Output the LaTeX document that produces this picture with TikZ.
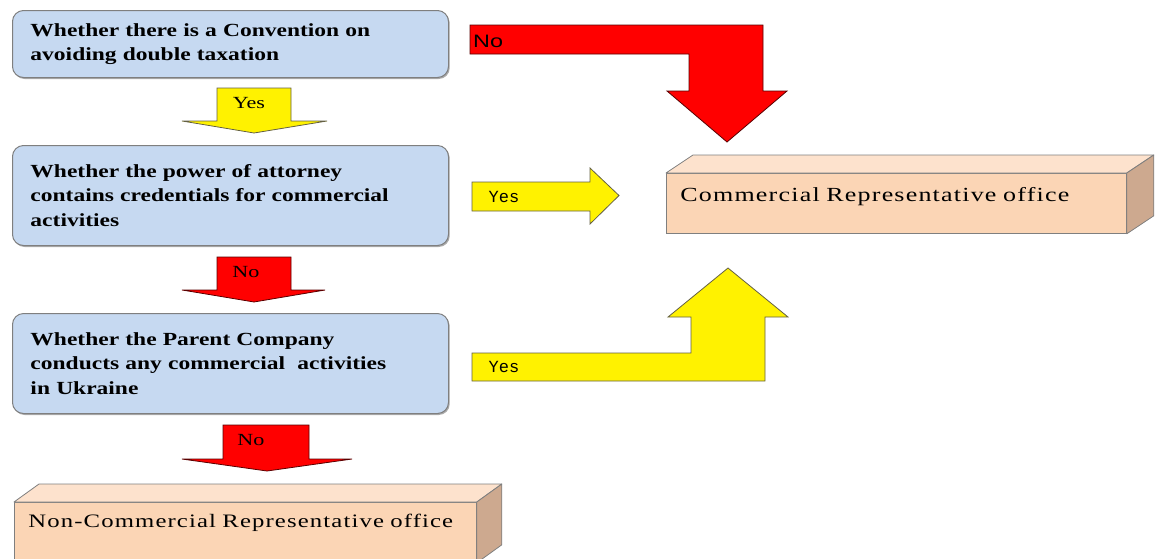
\documentclass[tikz,border=0pt]{standalone}
\usepackage{fontspec}
\setmainfont{Liberation Serif}[FakeStretch=1.3]
\newfontfamily\boxfont{Liberation Serif}[FakeStretch=1.27]
\newfontfamily\officefont{Liberation Serif}[FakeStretch=1.3,LetterSpace=6]
\newfontfamily\nosans{Liberation Sans}[FakeStretch=1.3]
\newfontfamily\yesmono{Liberation Mono}
\usetikzlibrary{shadows}
\definecolor{qblue}{HTML}{C6D9F1}
\definecolor{qedge}{HTML}{7F7F7F}
\definecolor{peach}{HTML}{FBD5B5}
\definecolor{peachtop}{HTML}{FDE2CD}
\definecolor{peachside}{HTML}{CDA98F}

\begin{document}
\begin{tikzpicture}[x=1pt,y=-1pt,
  qbox/.style={draw=qedge, line width=1pt, fill=qblue, rounded corners=11pt, anchor=north west,
    text width=400pt, inner xsep=18pt, align=left,
    font=\boxfont\bfseries\fontsize{18.5}{24.5}\selectfont,
    drop shadow={shadow xshift=1.2pt, shadow yshift=-1.5pt, fill=black!55, opacity=0.6}},
  office/.style={draw=qedge, line width=0.8pt, fill=peach, anchor=north west,
    inner xsep=14pt, inner ysep=0pt, align=left, font=\officefont\fontsize{20}{22}\selectfont},
  facetop/.style={draw=qedge, line width=0.8pt, fill=peachtop, line join=round},
  faceside/.style={draw=qedge, line width=0.8pt, fill=peachside, line join=round},
  yesarrow/.style={draw=yellow!30!black, line width=0.8pt, fill=yellow},
  noarrow/.style={draw=red!35!black, line width=0.8pt, fill=red},
  lab/.style={inner sep=0pt, font=\fontsize{17}{19}\selectfont}]

\useasboundingbox (0,0) rectangle (1156,558);

% questions
\node[qbox, minimum height=67pt] (conv) at (12,10) {Whether there is a Convention on\\avoiding double taxation};
\node[qbox, minimum height=100pt] (poa) at (12,145) {Whether the power of attorney\\contains credentials for commercial\\activities};
\node[qbox, minimum height=100pt] (parent) at (12,313) {Whether the Parent Company\\conducts any commercial\ \ activities\\in Ukraine};

% results
\node[office, text width=432pt, text height=28pt, text depth=32pt] (com) at (666,173) {Commercial Representative office};
\draw[facetop] (com.north west) -- ++(27,-18) -- ([shift={(27,-18)}]com.north east) -- (com.north east) -- cycle;
\draw[faceside] (com.north east) -- ++(27,-18) -- ([shift={(27,-18)}]com.south east) -- (com.south east) -- cycle;

\node[office, text width=434pt, text height=25pt, text depth=35pt, font=\officefont\fontsize{19}{22}\selectfont] (noncom) at (14,502) {\mbox{Non-Commercial Representative office}};
\draw[facetop] (noncom.north west) -- ++(25,-18) -- ([shift={(25,-18)}]noncom.north east) -- (noncom.north east) -- cycle;
\draw[faceside] (noncom.north east) -- ++(25,-18) -- ([shift={(25,-18)}]noncom.south east) -- (noncom.south east) -- cycle;

% down arrows
\coordinate (d1) at (254,88);
\draw[yesarrow] (d1) ++(-37,0) -- ++(74,0) -- ++(0,33) -- ++(36,0) -- ++(-73,12) -- ++(-72,-12) -- ++(35,0) -- cycle;
\node[lab] (yes1) at (249,103) {Yes};

\coordinate (d2) at (254,257);
\draw[noarrow] (d2) ++(-37,0) -- ++(74,0) -- ++(0,33) -- ++(34,0) -- ++(-71,12) -- ++(-72,-12) -- ++(35,0) -- cycle;
\node[lab] (no2) at (246,272) {No};

\coordinate (d3) at (266,425);
\draw[noarrow] (d3) ++(-43,0) -- ++(86,0) -- ++(0,34) -- ++(43,0) -- ++(-85,12) -- ++(-85,-12) -- ++(41,0) -- cycle;
\node[lab] (no3) at (251,440) {No};

% arrows to the commercial office
\coordinate (r1) at (472,182);
\draw[yesarrow] (r1) -- ++(118,0) -- ++(0,-14) -- ++(29,27.5) -- ++(-29,28.5) -- ++(0,-13) -- ++(-118,0) -- cycle;
\node[lab, font=\yesmono\fontsize{17}{19}\selectfont] (yes4) at (504,197) {Yes};

\coordinate (l1) at (470,25);
\draw[noarrow] (l1) -- ++(293,0) -- ++(0,66) -- ++(24,0) -- ++(-60,51) -- ++(-60,-51) -- ++(22,0) -- ++(0,-37) -- ++(-219,0) -- cycle;
\node[lab, anchor=west, font=\nosans\fontsize{18}{20}\selectfont] (no5) at (473,41) {No};

\coordinate (l2) at (472,381);
\draw[yesarrow] (l2) -- ++(293,0) -- ++(0,-64) -- ++(23,0) -- ++(-60,-49) -- ++(-60,49) -- ++(23,0) -- ++(0,36) -- ++(-219,0) -- cycle;
\node[lab, font=\yesmono\fontsize{17}{19}\selectfont] (yes6) at (504,367) {Yes};
\end{tikzpicture}
\end{document}
